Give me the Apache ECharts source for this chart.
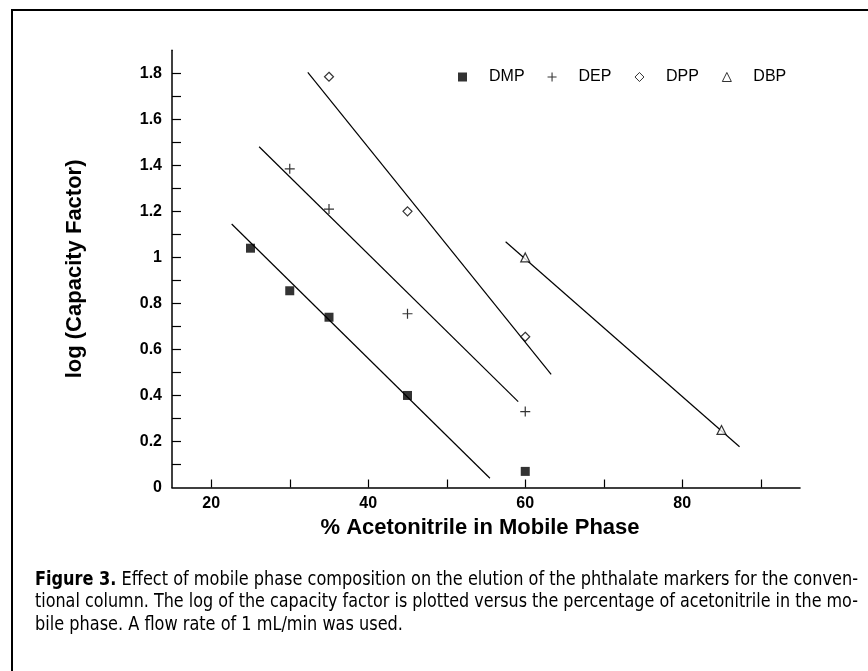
<!DOCTYPE html>
<html><head><meta charset="utf-8">
<script src="https://cdn.jsdelivr.net/npm/echarts@6/dist/echarts.min.js"></script>
<style>html,body{margin:0;padding:0;background:#fff}#c{width:868px;height:671px}</style>
</head><body><div id="c"></div>
<script>
// ---- data ----
const seriesNames = ['DMP', 'DEP', 'DPP', 'DBP'];
const dmpPoints = [[25, 1.04], [30, 0.855], [35, 0.74], [45, 0.40], [60, 0.07]];
const depPoints = [[30, 1.385], [35, 1.21], [45, 0.755], [60, 0.33]];
const dppPoints = [[35, 1.785], [45, 1.20], [60, 0.655]];
const dbpPoints = [[60, 1.0], [85, 0.25]];
const dmpFit = [[22.6, 1.145], [55.5, 0.04]];
const depFit = [[26.1, 1.481], [59.1, 0.373]];
const dppFit = [[32.3, 1.804], [63.3, 0.492]];
const dbpFit = [[57.5, 1.068], [87.3, 0.177]];
const xTickValues = [20, 30, 40, 50, 60, 70, 80, 90];
const xLabelValues = [20, 40, 60, 80];
const yTickValues = [0.1, 0.2, 0.3, 0.4, 0.5, 0.6, 0.7, 0.8, 0.9, 1.0, 1.1, 1.2, 1.3, 1.4, 1.5, 1.6, 1.7, 1.8];
const yLabelValues = [0, 0.2, 0.4, 0.6, 0.8, 1.0, 1.2, 1.4, 1.6, 1.8];
const xTitle = '% Acetonitrile in Mobile Phase';
const yTitle = 'log (Capacity Factor)';
const captionBold = 'Figure 3.';
const captionLines = [
  ' Effect of mobile phase composition on the elution of the phthalate markers for the conven-',
  'tional column. The log of the capacity factor is plotted versus the percentage of acetonitrile in the mo-',
  'bile phase. A flow rate of 1 mL/min was used.'
];

// ---- styling ----
const SANS = "'Liberation Sans', Arial, Helvetica, sans-serif";
const CAP = "'Liberation Sans Narrow', 'DejaVu Sans Condensed', 'Liberation Sans', sans-serif";
const CAP_SIZE = 19;
const capX = 35, capRight = 858;
const capY = [580, 602.5, 625];

const cv = document.createElement('canvas').getContext('2d');
function measure(t, w) { cv.font = (w || 'normal') + ' ' + CAP_SIZE + 'px ' + CAP; return cv.measureText(t).width; }
const w0 = measure(captionBold, 'bold') + measure(captionLines[0]);
const w1 = measure(captionLines[1]);
const s0 = (capRight - capX) / w0;
const s1 = (capRight - capX) / w1;
const scales = [s0, s1, s0];

const plusPath = 'path://M4.4,0H5.6V4.4H10V5.6H5.6V10H4.4V5.6H0V4.4H4.4Z';

function scatter(name, data, symbol, size, filled) {
  return {
    type: 'scatter', name: name, data: data, symbol: symbol, symbolSize: size,
    itemStyle: filled ? { color: '#000' } : { color: '#fff', borderColor: '#000', borderWidth: 1.2 },
    z: 5
  };
}
function fitLine(name, data) {
  return {
    type: 'line', name: name, data: data, symbol: 'none', silent: true,
    lineStyle: { color: '#000', width: 1.2 }, z: 3
  };
}

const chart = echarts.init(document.getElementById('c'), null, { renderer: 'canvas' });
chart.setOption({
  animation: false,
  backgroundColor: '#fff',
  grid: { left: 172, right: 68, top: 50.3, bottom: 183.5, containLabel: false },
  legend: {
    data: seriesNames, selectedMode: false,
    left: 453, top: 64, itemWidth: 9, itemHeight: 9, itemGap: 23,
    itemStyle: { borderWidth: 1 },
    textStyle: { fontFamily: SANS, fontSize: 16, color: '#000', padding: [0, 0, 0, 17] }
  },
  xAxis: {
    type: 'value', min: 15, max: 95,
    name: xTitle, nameLocation: 'middle', nameGap: 29,
    nameTextStyle: { fontFamily: SANS, fontWeight: 'bold', fontSize: 22, color: '#000', padding: [0, 12, 0, 0] },
    axisLine: { lineStyle: { color: '#000', width: 1.6 } },
    axisTick: { inside: true, length: 8, customValues: xTickValues, lineStyle: { color: '#000', width: 1.2 } },
    axisLabel: { customValues: xLabelValues, margin: 8, fontFamily: SANS, fontWeight: 'bold', fontSize: 16, color: '#000' },
    splitLine: { show: false }
  },
  yAxis: {
    type: 'value', min: 0, max: 1.9,
    name: yTitle, nameLocation: 'middle', nameGap: 86,
    nameTextStyle: { fontFamily: SANS, fontWeight: 'bold', fontSize: 22, color: '#000' },
    axisLine: { show: true, lineStyle: { color: '#000', width: 1.5 } },
    axisTick: { show: true, inside: true, length: 9, customValues: yTickValues, lineStyle: { color: '#000', width: 1.2 } },
    axisLabel: { customValues: yLabelValues, margin: 10, fontFamily: SANS, fontWeight: 'bold', fontSize: 16, color: '#000' },
    splitLine: { show: false }
  },
  series: [
    fitLine('DMP fit', dmpFit), fitLine('DEP fit', depFit), fitLine('DPP fit', dppFit), fitLine('DBP fit', dbpFit),
    scatter(seriesNames[0], dmpPoints, 'rect', 9, true),
    scatter(seriesNames[1], depPoints, plusPath, 10, true),
    scatter(seriesNames[2], dppPoints, 'diamond', 9, false),
    scatter(seriesNames[3], dbpPoints, 'triangle', 9, false)
  ],
  graphic: [
    { type: 'line', shape: { x1: 11, y1: 10, x2: 868, y2: 10 }, style: { stroke: '#000', lineWidth: 2 } },
    { type: 'line', shape: { x1: 12, y1: 9, x2: 12, y2: 671 }, style: { stroke: '#000', lineWidth: 2 } }
  ].concat(captionLines.map(function (t, i) {
    return {
      type: 'text', x: capX, y: capY[i], scaleX: scales[i], originX: 0, originY: 0,
      style: {
        text: i === 0 ? '{b|' + captionBold + '}{r|' + t + '}' : '{r|' + t + '}',
        verticalAlign: 'middle', fill: '#000',
        font: CAP_SIZE + 'px ' + CAP,
        rich: {
          b: { fontFamily: CAP, fontSize: CAP_SIZE, fontWeight: 'bold', fill: '#000' },
          r: { fontFamily: CAP, fontSize: CAP_SIZE, fontWeight: 'normal', fill: '#000' }
        }
      }
    };
  }))
});
</script></body></html>
